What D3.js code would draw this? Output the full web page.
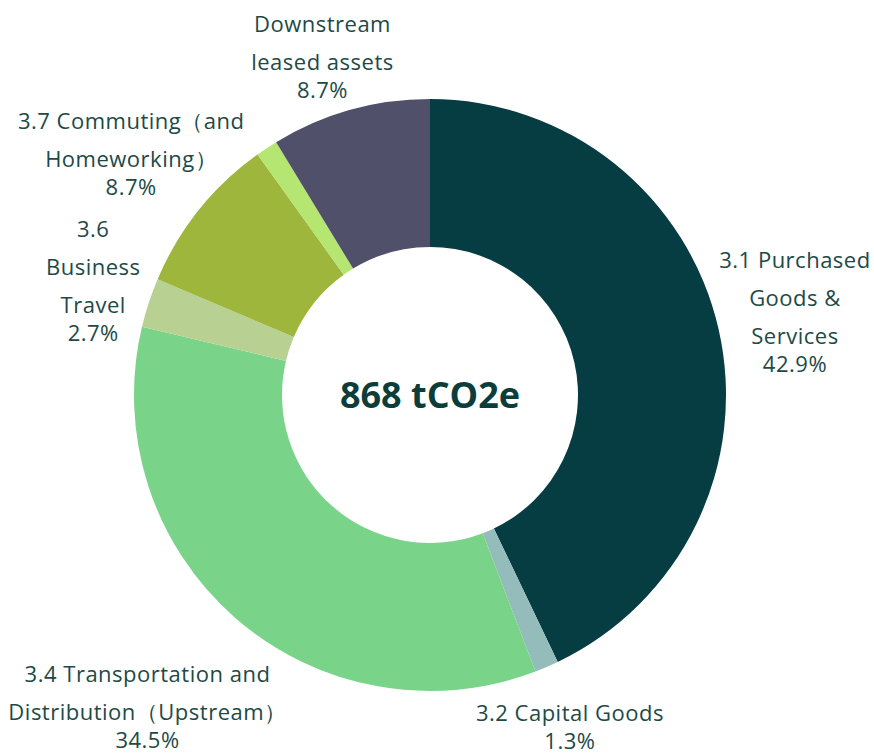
<!DOCTYPE html>
<html>
<head>
<meta charset="utf-8">
<script src="https://cdn.jsdelivr.net/npm/d3@7"></script>
<style>
	html, body { margin: 0; padding: 0; background: #fff; }
	svg text { font-family: "Open Sans", "Noto Sans", sans-serif; }
</style>
</head>
<body>
<svg id="viz"></svg>
<script>

	// the data
	var categories = [
		"3.1 Purchased Goods & Services",
		"3.2 Capital Goods",
		"3.4 Transportation and Distribution (Upstream)",
		"3.6 Business Travel",
		"3.7 Commuting (and Homeworking)",
		"3.5 Waste",
		"Downstream leased assets"
	];
	var shares = [42.9, 1.3, 34.5, 2.7, 8.7, 1.2, 8.7];
	// how each label is wrapped on the chart (null = no label)
	var labelLines = [
		["3.1 Purchased", "Goods &", "Services"],
		["3.2 Capital Goods"],
		["3.4 Transportation and", "Distribution（Upstream）"],
		["3.6", "Business", "Travel"],
		["3.7 Commuting（and", "Homeworking）"],
		null,
		["Downstream", "leased assets"]
	];
	var colors = ["#053d42", "#93bcbb", "#79d48a", "#b8d193", "#9db63b", "#b5e672", "#51506a"];
	var totalLabel = "868 tCO2e";



	// set up the svg
	var w = 874;
	var h = 756;
	var cx = 430, cy = 395;
	var outerR = 296, innerR = 148;
	var labelR = 365;
	var viz = d3.select("#viz").attr("width", w).attr("height", h);

	var dataset = categories.map(function(c, i) {
		return {name: c, value: shares[i], lines: labelLines[i], color: colors[i]};
	});

	var pie = d3.pie().sort(null).value(function(d) { return d.value; });
	var arc = d3.arc().innerRadius(innerR).outerRadius(outerR);
	var labelArc = d3.arc().innerRadius(labelR).outerRadius(labelR);

	var g = viz.append("g").attr("transform", "translate(" + cx + "," + cy + ")");



	// draw the slices
	g.selectAll("path")
		.data(pie(dataset))
		.enter()
		.append("path")
		.attr("d", arc)
		.attr("fill", function(d) { return d.data.color; });



	// draw the labels (name lines + percentage)
	var nudge = {
		"3.4 Transportation and Distribution (Upstream)": [-42, 38],
		"3.7 Commuting (and Homeworking)": [-14, -12],
		"Downstream leased assets": [-9, 14],
		"3.6 Business Travel": [10, 0],
		"3.1 Purchased Goods & Services": [9, -2],
		"3.2 Capital Goods": [-4, -3]
	};
	var lineGap = 38, pctGap = 28;

	var labels = g.selectAll("g.label")
		.data(pie(dataset).filter(function(d) { return d.data.lines; }))
		.enter()
		.append("g")
		.attr("class", "label")
		.attr("transform", function(d) {
			var c = labelArc.centroid(d);
			var n = nudge[d.data.name] || [0, 0];
			var blockH = (d.data.lines.length - 1) * lineGap + pctGap;
			return "translate(" + (c[0] + n[0]) + "," + (c[1] + n[1] - blockH / 2) + ")";
		});

	labels.each(function(d) {
		var self = d3.select(this);
		d.data.lines.forEach(function(line, i) {
			self.append("text")
				.attr("y", i * lineGap)
				.attr("dy", "0.35em")
				.attr("text-anchor", "middle")
				.attr("font-size", 22)
				.attr("letter-spacing", 0.5)
				.attr("fill", "#1d4a46")
				.text(line);
		});
		self.append("text")
			.attr("y", (d.data.lines.length - 1) * lineGap + pctGap)
			.attr("dy", "0.35em")
			.attr("text-anchor", "middle")
			.attr("font-size", 22)
			.attr("letter-spacing", 0.5)
			.attr("fill", "#1d4a46")
			.text(d3.format(".1f")(d.data.value) + "%");
	});



	// centre total
	g.append("text")
		.attr("text-anchor", "middle")
		.attr("dy", "0.35em")
		.attr("font-size", 36)
		.attr("font-weight", 700)
		.attr("fill", "#0b3d3a")
		.text(totalLabel);

</script>
</body>
</html>
